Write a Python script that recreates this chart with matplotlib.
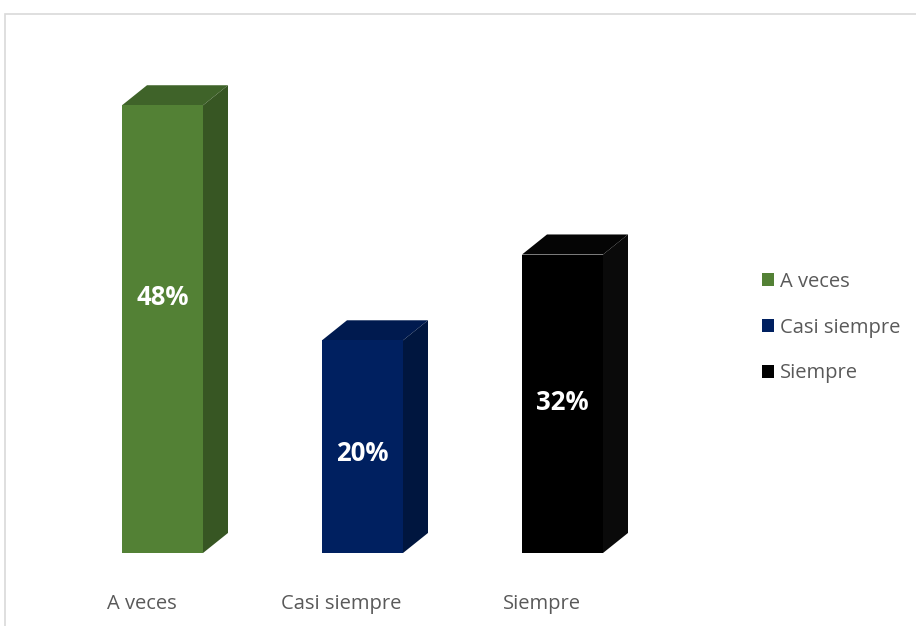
import matplotlib.pyplot as plt
from matplotlib.patches import Polygon, Rectangle

categories = ["A veces", "Casi siempre", "Siempre"]
values = [48, 22.8, 32]          # bar heights as drawn in the picture
labels = ["48%", "20%", "32%"]   # data labels as printed
front_colors = ["#538135", "#002060", "#000000"]
top_colors = ["#3f6329", "#001a4f", "#050505"]
side_colors = ["#375623", "#00163f", "#0a0a0a"]
label_frac = [0.57, 0.47, 0.505]

plt.rcParams['font.family'] = ['Open Sans', 'DejaVu Sans']

fig = plt.figure(figsize=(9.16, 6.26), dpi=100)
fig.patch.set_facecolor("white")

# chart frame
frame = Rectangle((5 / 916, -0.05), 1.0, 1 - 14 / 626 + 0.05,
                  transform=fig.transFigure, facecolor="white",
                  edgecolor="#d9d9d9", linewidth=1.2, zorder=-5)
fig.add_artist(frame)

ax = fig.add_axes([22.5 / 916, 73 / 626, 680 / 916, 513 / 626])
ax.set_zorder(2)
ax.set_xlim(-0.7, 2.7)
ax.set_ylim(0, 55)
ax.axis("off")

width = 0.405
dx = 0.125   # depth in x (data units)
dy = 2.15    # depth in y (data units)

x = range(len(categories))
bars = ax.bar(x, values, width=width, color=front_colors, zorder=3)

for xi, h, tc, sc in zip(x, values, top_colors, side_colors):
    x0 = xi - width / 2
    x1 = xi + width / 2
    ax.add_patch(Polygon([(x0, h), (x0 + dx, h + dy), (x1 + dx, h + dy), (x1, h)],
                         closed=True, facecolor=tc, edgecolor="none", zorder=2))
    ax.add_patch(Polygon([(x1, 0), (x1 + dx, dy), (x1 + dx, h + dy), (x1, h)],
                         closed=True, facecolor=sc, edgecolor="none", zorder=2))
    ax.text(xi, h * label_frac[xi], labels[xi], ha="center", va="center",
            color="white", fontsize=18.5, fontweight="bold", zorder=4)
    ax.text(xi - 0.105, -5.45, categories[xi], ha="center", va="center",
            color="#595959", fontsize=14.5, clip_on=False)

handles = [Rectangle((0, 0), 1, 1, facecolor=c) for c in front_colors]
leg = fig.legend(handles, categories, loc="upper left",
                 bbox_to_anchor=(762 / 916, 1 - 272 / 626), frameon=False,
                 fontsize=14.5, labelspacing=1.27, handlelength=0.62,
                 handleheight=0.62, handletextpad=0.28,
                 borderpad=0, borderaxespad=0)
leg.set_zorder(3)
for t in leg.get_texts():
    t.set_color("#595959")

fig.savefig("out.png", dpi=100)
